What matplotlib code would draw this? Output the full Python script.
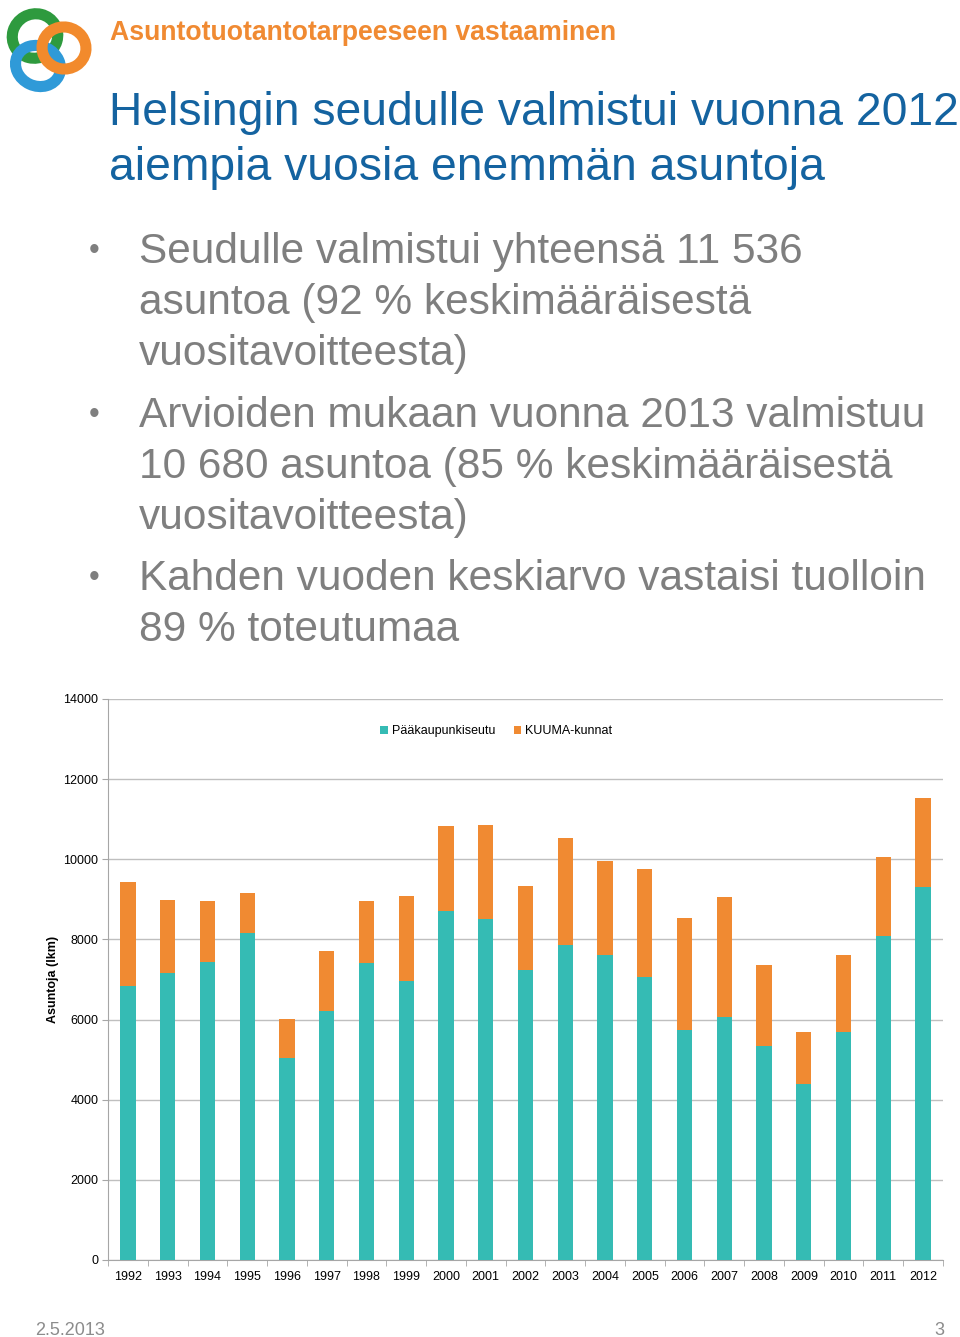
import numpy as np
import matplotlib.pyplot as plt
from matplotlib.patches import Ellipse

years = [str(y) for y in range(1992, 2013)]
paakaupunkiseutu = [6840, 7160, 7440, 8150, 5030, 6215, 7405, 6965, 8720, 8520, 7240,
                    7870, 7620, 7065, 5735, 6075, 5340, 4395, 5685, 8095, 9300]
kuuma = [2595, 1835, 1520, 1020, 985, 1490, 1555, 2130, 2120, 2340, 2095,
         2670, 2330, 2685, 2810, 2980, 2025, 1295, 1920, 1970, 2236]

header = "Asuntotuotantotarpeeseen vastaaminen"
title_lines = ["Helsingin seudulle valmistui vuonna 2012", "aiempia vuosia enemmän asuntoja"]
bullets = [
    ["Seudulle valmistui yhteensä 11 536", "asuntoa (92 % keskimääräisestä", "vuositavoitteesta)"],
    ["Arvioiden mukaan vuonna 2013 valmistuu", "10 680 asuntoa (85 % keskimääräisestä", "vuositavoitteesta)"],
    ["Kahden vuoden keskiarvo vastaisi tuolloin", "89 % toteutumaa"],
]

TEAL = '#35bbb4'
ORANGE = '#f08a32'
GRID = '#bfbfbf'
W, H = 960, 1337

plt.rcParams['font.family'] = ['Liberation Sans', 'DejaVu Sans']

fig = plt.figure(figsize=(W / 100, H / 100), dpi=100)

def px(x, y):
    # pixel coords (top-left origin) -> figure fraction
    return x / W, 1 - y / H

## texts ##############################
fig.text(*px(110, 40), header, color='#f08a32', fontsize=19.2, fontweight='bold', va='baseline')
for i, line in enumerate(title_lines):
    fig.text(*px(109, 125 + i * 55), line, color='#1463a0', fontsize=33.3, va='baseline')

y0 = [263, 427, 590]
for b, lines in enumerate(bullets):
    fig.text(*px(89, y0[b] - 4), '•', color='#7f7f7f', fontsize=22, va='baseline')
    for j, line in enumerate(lines):
        fig.text(*px(139, y0[b] + j * 51), line, color='#7f7f7f', fontsize=30.5, va='baseline')

fig.text(*px(35, 1335), '2.5.2013', color='#8c8c8c', fontsize=13, va='baseline')
fig.text(*px(944, 1335), '3', color='#8c8c8c', fontsize=13, va='baseline', ha='right')

## logo ##############################
lax = fig.add_axes([0, 1 - 100 / H, 100 / W, 100 / H])
lax.set_xlim(0, 100)
lax.set_ylim(100, 0)
lax.axis('off')
lax.add_patch(Ellipse((35, 36), 46, 44, angle=-30, fill=False, lw=8, ec='#2e9a3e'))
lax.add_patch(Ellipse((38, 66), 46, 40, angle=25, fill=False, lw=8, ec='#2f9ad8'))
lax.add_patch(Ellipse((64, 48), 44, 42, angle=10, fill=False, lw=8, ec='#f28a2c'))

## chart ##############################
ax = fig.add_axes([108 / W, 1 - 1260 / H, (943 - 108) / W, (1260 - 699) / H])
x = np.arange(len(years))
ax.bar(x, paakaupunkiseutu, width=0.385, color=TEAL, label='Pääkaupunkiseutu', zorder=3)
ax.bar(x, kuuma, width=0.385, bottom=paakaupunkiseutu, color=ORANGE, label='KUUMA-kunnat', zorder=3)

ax.set_xlim(-0.5, len(years) - 0.5)
ax.set_ylim(0, 14000)
ax.set_yticks(np.arange(0, 14001, 2000))
ax.set_xticks(x)
ax.set_xticklabels(years)
ax.set_xticks(np.arange(-0.5, len(years), 1), minor=True)
ax.tick_params(axis='x', which='major', length=0, labelsize=9, pad=8)
ax.tick_params(axis='x', which='minor', length=4, color='#a6a6a6')
ax.tick_params(axis='y', length=4, color='#a6a6a6', labelsize=9, pad=3)
ax.grid(axis='y', color=GRID, lw=1, zorder=0)
for s in ['top', 'right']:
    ax.spines[s].set_visible(False)
for s in ['left', 'bottom']:
    ax.spines[s].set_color('#a6a6a6')
ax.set_ylabel('Asuntoja (lkm)', fontsize=9, fontweight='bold', labelpad=3)

ax.legend(loc='center', bbox_to_anchor=(0.465, 0.943), ncol=2, frameon=False, fontsize=9,
          handlelength=0.6, handleheight=0.6, handletextpad=0.3, columnspacing=1.5)

plt.savefig('out.png', dpi=100)
